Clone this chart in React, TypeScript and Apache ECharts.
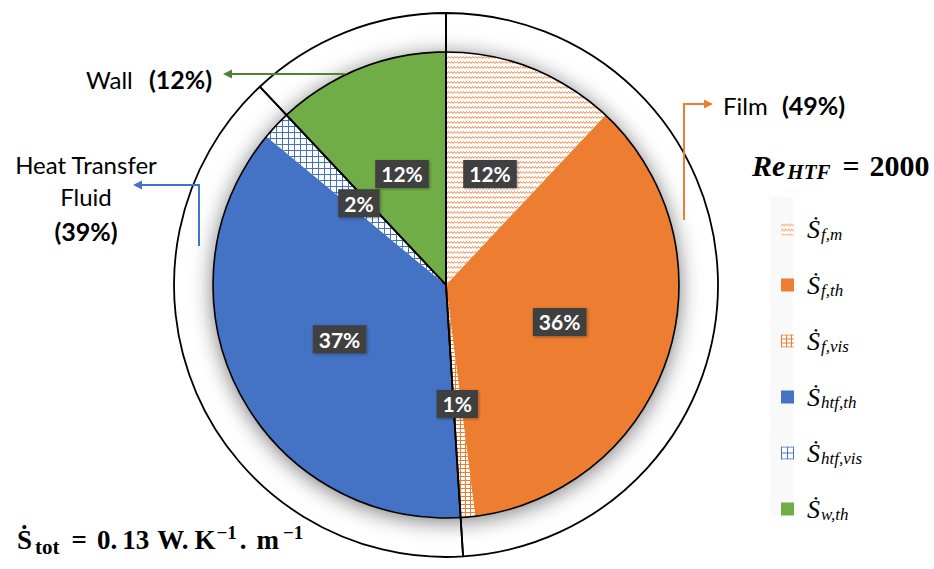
import React, { useEffect, useRef } from 'react';
import * as echarts from 'echarts';

// ---- data ----
const sliceNames = ['Ṡ_f,m', 'Ṡ_f,th', 'Ṡ_f,vis', 'Ṡ_htf,th', 'Ṡ_htf,vis', 'Ṡ_w,th'];
const sliceValues = [12, 36, 1, 37, 2, 12];
const groupNames = ['Film', 'Heat Transfer Fluid', 'Wall'];
const groupValues = [49, 39, 12];
const groupPercents = ['(49%)', '(39%)', '(12%)'];
const reynoldsValue = '2000';
const totalValue = ['0.', '13'];

const ORANGE = '#ED7D31';
const BLUE = '#4472C4';
const GREEN = '#70AD47';
const DARK_GREEN = '#548235';

type Drawer = (ctx: CanvasRenderingContext2D) => void;
function tile(w: number, h: number, draw: Drawer) {
  const c = document.createElement('canvas');
  c.width = w;
  c.height = h;
  const ctx = c.getContext('2d') as CanvasRenderingContext2D;
  ctx.fillStyle = '#ffffff';
  ctx.fillRect(0, 0, w, h);
  draw(ctx);
  return { image: c, repeat: 'repeat', imageWidth: w, imageHeight: h } as any;
}

export default function App() {
  const ref = useRef<HTMLDivElement>(null);
  useEffect(() => {
    if (!ref.current) return;
    const chart = echarts.init(ref.current, null, { renderer: 'svg' });

    const wave = tile(6, 5, (ctx) => {
      ctx.strokeStyle = '#EF8A4A';
      ctx.lineWidth = 1;
      ctx.beginPath();
      ctx.moveTo(0, 3.5);
      ctx.lineTo(1.5, 1.5);
      ctx.lineTo(3, 3.5);
      ctx.lineTo(4.5, 1.5);
      ctx.lineTo(6, 3.5);
      ctx.stroke();
    });
    const gridOrange = tile(5, 4, (ctx) => {
      ctx.fillStyle = ORANGE;
      ctx.fillRect(0, 0, 5, 1);
      ctx.fillRect(0, 0, 1, 4);
    });
    const gridBlue = tile(6, 6, (ctx) => {
      ctx.fillStyle = BLUE;
      ctx.fillRect(0, 0, 6, 1);
      ctx.fillRect(0, 0, 1, 6);
    });
    const sliceFills = [wave, ORANGE, gridOrange, BLUE, gridBlue, GREEN];

    const center = [446, 285];
    const rInner = 233;
    const rOuter = 272;
    const calibri = 'Lato, "Open Sans", sans-serif';
    const serif = '"Liberation Serif", "DejaVu Serif", serif';

    const B = (size: number, pad = 0, extra: any = {}) => ({
      fontFamily: serif, fontWeight: 'bold', fontSize: size, lineHeight: 34, color: '#000', padding: [0, 0, 0, pad], ...extra,
    });

    const option: any = {
      animation: false,
      backgroundColor: '#ffffff',
      title: [
        {
          left: 752,
          top: 148,
          padding: 0,
          text: `{a|Re}{b|HTF}{c|=}{d|${reynoldsValue}}`,
          textStyle: {
            rich: {
              a: B(30, 0, { fontStyle: 'italic' }),
              b: B(21, 2, { fontStyle: 'italic', lineHeight: 14, verticalAlign: 'bottom' }),
              c: B(30, 12),
              d: B(30, 10),
            },
          },
        },
        {
          left: 17,
          top: 523,
          padding: 0,
          text: `{s|Ṡ}{sub|tot}{eq|=}{n1|${totalValue[0]}}{n2|${totalValue[1]}}{w|W.}{k|K}{sup|−1}{dot|.}{m|m}{sup2|−1}`,
          textStyle: {
            rich: {
              s: B(27, 0),
              sub: B(21, 3, { lineHeight: 22, verticalAlign: 'bottom' }),
              eq: B(27, 12),
              n1: B(27, 10),
              n2: B(27, 5),
              w: B(27, 8),
              k: B(27, 6),
              sup: B(19, 1, { lineHeight: 16, verticalAlign: 'top' }),
              dot: B(27, 3),
              m: B(27, 10),
              sup2: B(19, 4, { lineHeight: 16, verticalAlign: 'top' }),
            },
          },
        },
      ],
      legend: {
        orient: 'vertical',
        left: 776,
        top: 211,
        icon: 'rect',
        itemWidth: 13,
        itemHeight: 13,
        itemGap: 29,
        selectedMode: false,
        data: sliceNames,
        formatter: (name: string) => {
          const [s, sub] = name.split('_');
          return `{s|${s}}{sub|${sub}}`;
        },
        textStyle: {
          rich: {
            s: { fontFamily: serif, fontStyle: 'italic', fontSize: 26, lineHeight: 28, color: '#000', padding: [0, 0, 0, 8] },
            sub: { fontFamily: serif, fontStyle: 'italic', fontSize: 17, lineHeight: 12, verticalAlign: 'bottom', color: '#000', padding: [0, 0, 0, 1] },
          },
        },
      },
      graphic: [
        { type: 'rect', z: 0, shape: { x: 770, y: 197, width: 23, height: 318 }, style: { fill: '#f9f9f9' } },
        {
          type: 'circle', z: 1, shape: { cx: center[0], cy: center[1], r: rInner },
          style: { fill: '#ffffff', shadowBlur: 22, shadowColor: 'rgba(0,0,0,0.55)', shadowOffsetY: 3 },
        },
        {
          type: 'circle', z: 10, silent: true, shape: { cx: center[0], cy: center[1], r: rInner },
          style: { fill: 'none', stroke: '#000', lineWidth: 1.6 },
        },
        // Wall annotation
        { type: 'polyline', z: 10, shape: { points: [[345, 74], [230, 74]] }, style: { stroke: DARK_GREEN, lineWidth: 2, fill: 'none' } },
        { type: 'polygon', z: 10, shape: { points: [[223, 74], [232, 69.5], [232, 78.5]] }, style: { fill: DARK_GREEN } },
        { type: 'text', z: 10, style: { x: 86, y: 79, text: groupNames[2], font: `24px ${calibri}`, fill: '#000', verticalAlign: 'middle' } },
        { type: 'text', z: 10, style: { x: 149, y: 79, text: groupPercents[2], font: `bold 25px ${calibri}`, fill: '#000', verticalAlign: 'middle' } },
        // HTF annotation
        { type: 'polyline', z: 10, shape: { points: [[199, 246], [199, 185], [140, 185]] }, style: { stroke: BLUE, lineWidth: 2, fill: 'none' } },
        { type: 'polygon', z: 10, shape: { points: [[133, 185], [142, 180.5], [142, 189.5]] }, style: { fill: BLUE } },
        { type: 'text', z: 10, style: { x: 86, y: 164, text: 'Heat Transfer', font: `24px ${calibri}`, fill: '#000', align: 'center', verticalAlign: 'middle' } },
        { type: 'text', z: 10, style: { x: 86, y: 196, text: 'Fluid', font: `24px ${calibri}`, fill: '#000', align: 'center', verticalAlign: 'middle' } },
        { type: 'text', z: 10, style: { x: 86, y: 231, text: groupPercents[1], font: `bold 25px ${calibri}`, fill: '#000', align: 'center', verticalAlign: 'middle' } },
        // Film annotation
        { type: 'polyline', z: 10, shape: { points: [[684, 220], [684, 104], [705, 104]] }, style: { stroke: ORANGE, lineWidth: 2, fill: 'none' } },
        { type: 'polygon', z: 10, shape: { points: [[713, 104], [704, 99.5], [704, 108.5]] }, style: { fill: ORANGE } },
        { type: 'text', z: 10, style: { x: 723, y: 105, text: groupNames[0], font: `24px ${calibri}`, fill: '#000', verticalAlign: 'middle' } },
        { type: 'text', z: 10, style: { x: 782, y: 105, text: groupPercents[0], font: `bold 25px ${calibri}`, fill: '#000', verticalAlign: 'middle' } },
      ],
      series: [
        {
          type: 'pie',
          name: 'components',
          z: 2,
          center,
          radius: [0, rInner],
          startAngle: 90,
          clockwise: true,
          silent: true,
          label: { show: false },
          labelLine: { show: false },
          itemStyle: { borderWidth: 0 },
          data: sliceNames.map((n, i) => ({ name: n, value: sliceValues[i], itemStyle: { color: sliceFills[i] } })),
        },
        {
          type: 'pie',
          name: 'groups',
          z: 3,
          center,
          radius: [0, rOuter],
          startAngle: 90,
          clockwise: true,
          silent: true,
          label: { show: false },
          labelLine: { show: false },
          itemStyle: { color: 'rgba(0,0,0,0)', borderColor: '#000', borderWidth: 1.8 },
          data: groupNames.map((n, i) => ({ name: n, value: groupValues[i] })),
        },
        {
          type: 'pie',
          name: 'labels',
          z: 4,
          center,
          radius: [0, rInner],
          startAngle: 90,
          clockwise: true,
          silent: true,
          itemStyle: { color: 'rgba(0,0,0,0)', borderWidth: 0 },
          labelLine: { show: false },
          label: {
            show: true,
            position: 'inside',
            formatter: '{c}%',
            color: '#ffffff',
            fontFamily: calibri,
            fontWeight: 'bold',
            fontSize: 21,
            backgroundColor: '#404040',
            padding: [4, 6, 3, 6],
            shadowColor: 'rgba(0,0,0,0.35)',
            shadowBlur: 3,
            shadowOffsetX: 1,
            shadowOffsetY: 1,
          },
          data: sliceNames.map((n, i) => ({ name: n, value: sliceValues[i] })),
        },
      ],
    };
    chart.setOption(option);
    return () => chart.dispose();
  }, []);
  return <div ref={ref} style={{ position: 'absolute', left: 0, top: 0, width: 934, height: 569 }} />;
}
